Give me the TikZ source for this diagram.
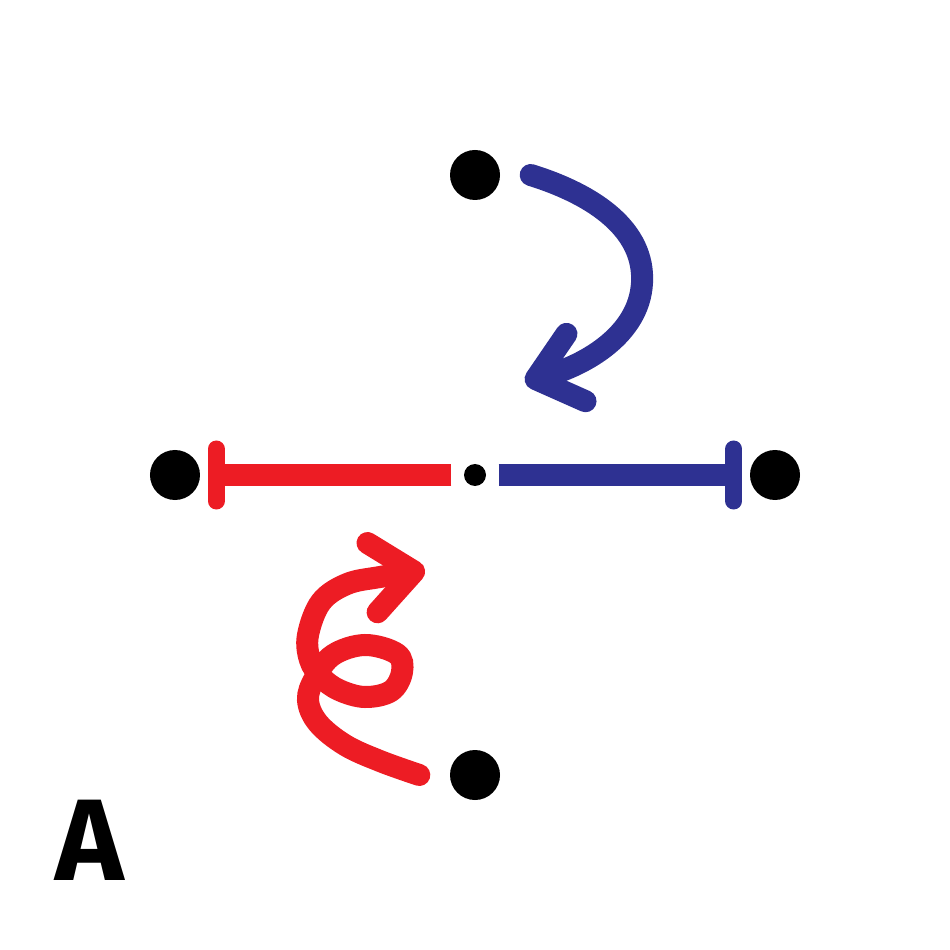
\documentclass[tikz,border=0pt]{standalone}
\usepackage{fontspec}
\setmainfont{Fira Sans}
\usetikzlibrary{arrows.meta,positioning}
\definecolor{inhred}{HTML}{ED1C24}
\definecolor{actblue}{HTML}{2E3192}

\begin{document}
\begin{tikzpicture}[on grid, node distance=3cm,
    bigdot/.style={circle, fill=black, inner sep=0pt, minimum size=5mm},
    hubdot/.style={circle, fill=black, inner sep=0pt, minimum size=2.2mm},
    redline/.style={draw=inhred, line width=2.2mm},
    blueline/.style={draw=actblue, line width=2.2mm},
    tbar/.style={-{Bar[width=5.2mm, line width=1.7mm, round]}},
    barb/.style={-{Straight Barb[length=4.2mm, width=7mm, round]}}]
    \useasboundingbox (-4.75,-4.75) rectangle (4.75,4.75);
    \node[hubdot] (hub) at (0,0) {};
    \node[bigdot, above=of hub] (top) {};
    \node[bigdot, left=of hub] (lft) {};
    \node[bigdot, right=of hub] (rgt) {};
    \node[bigdot, below=of hub] (bot) {};
    \coordinate (btip) at (0.5,0.93);
    \coordinate (rtip) at (-0.5,-0.95);
    \node[font=\bfseries\fontsize{33}{33}\selectfont] (lbl) at (-3.85,-3.65) {A};

    \draw[redline, tbar, shorten <=1.2mm, shorten >=0.7mm] (hub) -- (lft);
    \draw[blueline, tbar, shorten <=1.2mm, shorten >=0.7mm] (hub) -- (rgt);
    \draw[blueline, barb, line cap=round] ([xshift=3mm]top.east) .. controls (1.2,2.8) and (1.7,2.45) .. (1.67,1.92)
        .. controls (1.64,1.4) and (1.1,1.1) .. (btip);
    \draw[redline, barb, line cap=round] plot[smooth, tension=0.6] coordinates {([xshift=-3mm]bot.west) (-0.95,-2.86) (-1.3,-2.7)
        (-1.57,-2.48) (-1.67,-2.25) (-1.6,-2.03) (-1.42,-1.80) (-1.10,-1.70) (-0.78,-1.79) (-0.73,-1.97)
        (-0.84,-2.16) (-1.10,-2.22) (-1.36,-2.15) (-1.54,-2.02) (-1.65,-1.85) (-1.67,-1.60) (-1.54,-1.27)
        (-1.28,-1.09) (-0.95,-1.02) (rtip)};
\end{tikzpicture}
\end{document}
